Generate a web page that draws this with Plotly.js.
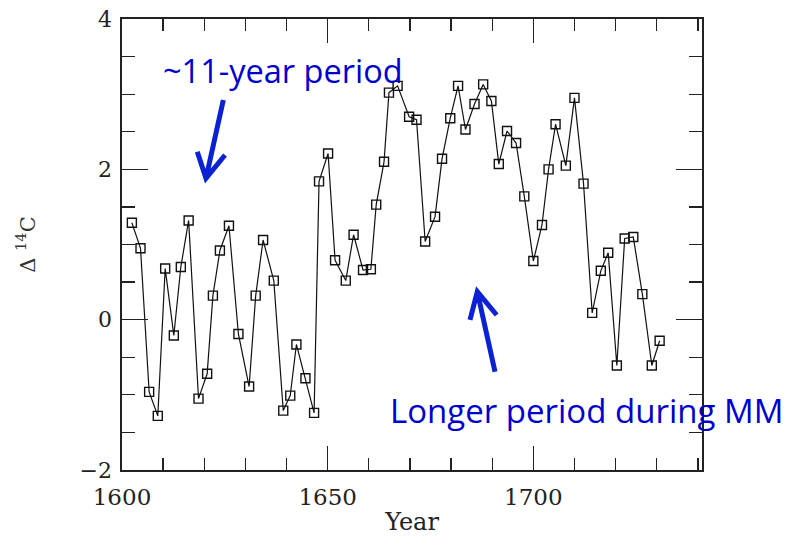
<!DOCTYPE html>
<html>
<head>
<meta charset="utf-8">
<script src="https://cdn.plot.ly/plotly-3.0.1.min.js"></script>
<style>html,body{margin:0;padding:0;background:#fff;}#chart{width:790px;height:536px;}</style>
</head>
<body>
<div id="chart"></div>
<script>
const years = [1602.4,1604.5,1606.6,1608.7,1610.5,1612.6,1614.3,1616.2,1618.6,1620.7,1622.1,1623.8,1626.0,1628.3,1630.9,1632.5,1634.3,1636.9,1639.2,1640.9,1642.4,1644.6,1646.7,1647.9,1650.1,1651.8,1654.4,1656.3,1658.6,1660.5,1661.8,1663.7,1664.9,1667.0,1669.8,1671.6,1673.7,1676.1,1677.8,1679.8,1681.7,1683.5,1685.7,1687.8,1689.8,1691.6,1693.6,1695.8,1697.8,1700.0,1702.1,1703.7,1705.4,1707.9,1710.0,1712.2,1714.3,1716.4,1718.2,1720.3,1722.2,1724.3,1726.5,1728.8,1730.7];
const delta14C = [1.29,0.95,-0.96,-1.28,0.68,-0.21,0.70,1.32,-1.05,-0.72,0.32,0.92,1.25,-0.19,-0.89,0.32,1.06,0.52,-1.21,-1.01,-0.33,-0.78,-1.24,1.84,2.21,0.79,0.52,1.13,0.66,0.67,1.53,2.10,3.02,3.11,2.70,2.66,1.04,1.37,2.14,2.68,3.11,2.53,2.87,3.13,2.91,2.07,2.51,2.35,1.64,0.78,1.26,2.00,2.60,2.05,2.95,1.81,0.09,0.65,0.89,-0.61,1.08,1.10,0.34,-0.61,-0.28];
const xTicks = [1600,1650,1700];
const yTicks = [-2,0,2,4];
const yTickText = ["−2","0","2","4"];
const note1 = "~11-year period";
const note2 = "Longer period during MM";

const serif = "DejaVu Serif, serif";
const blue = "#0000cc";
const arrowBlue = "#0a22d4";

const trace = {
  x: years, y: delta14C, type: "scatter", mode: "lines+markers",
  line: {color: "#111", width: 1.2},
  marker: {symbol: "square-open", size: 9, color: "#111", line: {width: 1.4, color: "#111"}},
  hoverinfo: "x+y"
};

const layout = {
  width: 790, height: 536,
  margin: {l: 122, r: 88, t: 19, b: 66},
  paper_bgcolor: "#fff", plot_bgcolor: "#fff",
  showlegend: false,
  xaxis: {
    range: [1600, 1741], tickvals: xTicks, ticktext: xTicks.map(String),
    ticks: "inside", ticklen: 24, tickwidth: 1.3, tickcolor: "#222",
    minor: {dtick: 10, ticks: "inside", ticklen: 12, tickwidth: 1.3, tickcolor: "#222", showgrid: false},
    showline: true, linecolor: "#222", linewidth: 1.6, mirror: "allticks",
    showgrid: false, zeroline: false,
    tickfont: {family: serif, size: 23, color: "#222"},
    ticklabelstandoff: 6,
    title: {text: "Year", font: {family: serif, size: 24, color: "#222"}, standoff: 4}
  },
  yaxis: {
    range: [-2, 4], tickvals: yTicks, ticktext: yTickText,
    ticks: "inside", ticklen: 26, tickwidth: 1.3, tickcolor: "#222",
    minor: {dtick: 0.5, ticks: "inside", ticklen: 13, tickwidth: 1.3, tickcolor: "#222", showgrid: false},
    showline: true, linecolor: "#222", linewidth: 1.6, mirror: "allticks",
    showgrid: false, zeroline: false,
    tickfont: {family: serif, size: 22, color: "#222"},
    ticklabelstandoff: 4,
    title: {text: "Δ <sup>14</sup>C", font: {family: serif, size: 21, color: "#333"}, standoff: 38}
  },
  annotations: [
    {xref: "paper", yref: "paper", x: 0.067, y: 0.885, xanchor: "left", yanchor: "middle",
     text: note1, showarrow: false, font: {family: "Open Sans, sans-serif", size: 32.5, color: blue}},
    {xref: "paper", yref: "paper", x: 0.459, y: 0.132, xanchor: "left", yanchor: "middle",
     text: note2, showarrow: false, font: {family: "Open Sans, sans-serif", size: 33, color: blue}}
  ],
  shapes: [
    {type: "path", xref: "paper", yref: "paper",
     path: "M 0.1747 0.8204 L 0.1448 0.6468 M 0.1298 0.7058 L 0.1448 0.6468 L 0.1776 0.6984",
     line: {color: arrowBlue, width: 5}},
    {type: "path", xref: "paper", yref: "paper",
     path: "M 0.6431 0.2180 L 0.6126 0.3953 M 0.6000 0.3326 L 0.6126 0.3953 L 0.6460 0.3437",
     line: {color: arrowBlue, width: 5}}
  ]
};

Plotly.newPlot("chart", [trace], layout, {displayModeBar: false, staticPlot: true});
</script>
</body>
</html>
